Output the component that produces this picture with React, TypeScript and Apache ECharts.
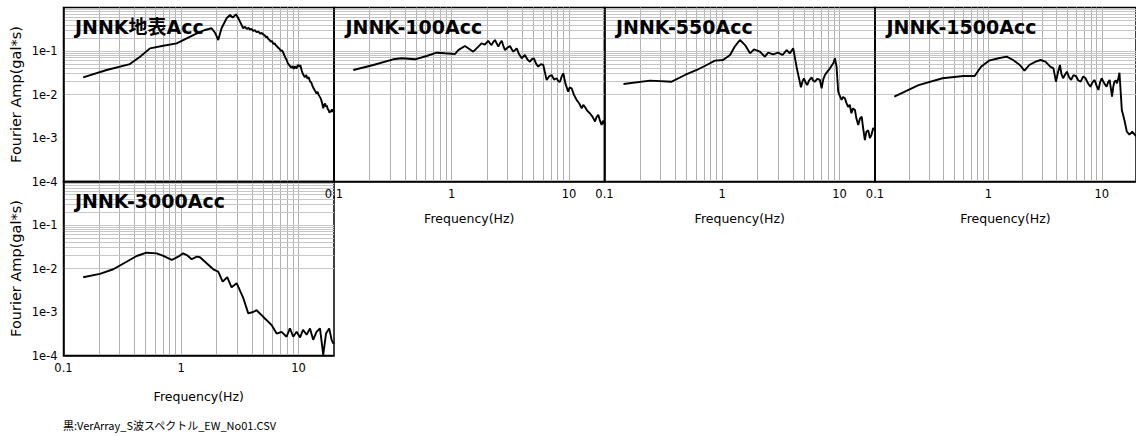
import React, { useEffect, useRef } from "react";
import * as echarts from "echarts";

// ---------- data ----------
const PANEL_TITLES = ["JNNK地表Acc", "JNNK-100Acc", "JNNK-550Acc", "JNNK-1500Acc", "JNNK-3000Acc"];

const FREQ_SURFACE = [0.147, 0.233, 0.367, 0.448, 0.544, 0.706, 0.918, 1.117, 1.31, 1.6, 1.82, 1.95, 2.07, 2.21, 2.44, 2.61, 2.75, 2.93, 3.07, 3.2, 3.38, 3.5, 3.62, 3.75, 3.85, 3.97, 4.1, 4.25, 4.39, 4.55, 4.7, 4.85, 5.0, 5.15, 5.25, 5.38, 5.51, 5.65, 5.8, 5.95, 6.08, 6.25, 6.4, 6.55, 6.71, 6.88, 7.05, 7.2, 7.4, 7.55, 7.65, 7.8, 7.91, 8.1, 8.3, 8.5, 8.71, 8.9, 9.1, 9.3, 9.61, 9.85, 10.1, 10.35, 10.6, 10.85, 11.1, 11.3, 11.6, 11.9, 12.2, 12.5, 12.8, 13.1, 13.3, 13.6, 13.9, 14.2, 14.5, 14.8, 15.2, 15.5, 15.8, 16.2, 16.5, 16.8, 17.1, 17.4, 17.7, 18.0, 18.3, 18.6, 18.9, 19.2, 19.5, 19.8, 20];
const AMP_SURFACE = [0.0248, 0.0366, 0.05, 0.074, 0.115, 0.132, 0.15, 0.196, 0.242, 0.304, 0.333, 0.26, 0.179, 0.333, 0.565, 0.672, 0.583, 0.698, 0.565, 0.45, 0.333, 0.36, 0.32, 0.34, 0.31, 0.325, 0.29, 0.3, 0.27, 0.28, 0.25, 0.26, 0.24, 0.23, 0.21, 0.215, 0.19, 0.18, 0.165, 0.17, 0.145, 0.15, 0.135, 0.128, 0.118, 0.112, 0.1, 0.104, 0.092, 0.08, 0.074, 0.066, 0.062, 0.052, 0.048, 0.044, 0.041, 0.045, 0.039, 0.044, 0.04, 0.048, 0.044, 0.047, 0.036, 0.03, 0.027, 0.025, 0.028, 0.023, 0.025, 0.02, 0.019, 0.016, 0.0145, 0.013, 0.0118, 0.0105, 0.0115, 0.0098, 0.0087, 0.0078, 0.0066, 0.0048, 0.0058, 0.0062, 0.0052, 0.0056, 0.0046, 0.0044, 0.0038, 0.0042, 0.004, 0.0046, 0.004, 0.0043, 0.0038];

const FREQ_100 = [0.146, 0.216, 0.319, 0.376, 0.489, 0.614, 0.746, 0.879, 1.07, 1.14, 1.3, 1.53, 1.69, 1.8, 1.92, 2.05, 2.12, 2.19, 2.26, 2.34, 2.42, 2.5, 2.58, 2.67, 2.76, 2.85, 3.0, 3.14, 3.25, 3.35, 3.46, 3.58, 3.75, 3.95, 4.08, 4.21, 4.42, 4.64, 4.83, 5.02, 5.22, 5.46, 5.75, 6.03, 6.2, 6.44, 6.75, 7.1, 7.45, 7.83, 8.1, 8.36, 8.65, 8.92, 9.3, 9.82, 10.1, 10.5, 11.0, 11.6, 12.2, 12.8, 13.2, 13.6, 14.3, 15.0, 15.8, 16.6, 17.1, 17.7, 18.3, 18.9, 19.4, 19.8, 20];
const AMP_100 = [0.0366, 0.0477, 0.0644, 0.068, 0.0644, 0.0767, 0.0914, 0.0885, 0.0853, 0.105, 0.13, 0.0964, 0.126, 0.15, 0.14, 0.172, 0.15, 0.137, 0.16, 0.179, 0.15, 0.126, 0.15, 0.172, 0.13, 0.105, 0.12, 0.13, 0.11, 0.0964, 0.105, 0.115, 0.085, 0.068, 0.075, 0.081, 0.064, 0.0568, 0.065, 0.068, 0.052, 0.0436, 0.05, 0.0477, 0.034, 0.0216, 0.026, 0.0281, 0.022, 0.0236, 0.02, 0.0197, 0.026, 0.0307, 0.018, 0.0116, 0.0145, 0.0139, 0.0098, 0.0075, 0.0062, 0.0048, 0.0058, 0.0052, 0.0042, 0.0037, 0.0031, 0.0024, 0.003, 0.0034, 0.0025, 0.002, 0.0025, 0.0022, 0.0021];

const FREQ_550 = [0.145, 0.244, 0.373, 0.484, 0.609, 0.74, 0.87, 1.02, 1.17, 1.29, 1.42, 1.57, 1.73, 1.87, 2.1, 2.31, 2.47, 2.72, 3.0, 3.27, 3.54, 3.78, 4.03, 4.3, 4.69, 4.83, 4.97, 5.13, 5.3, 5.5, 5.78, 5.95, 6.17, 6.45, 6.8, 7.03, 7.25, 7.5, 7.9, 8.28, 8.55, 8.84, 9.12, 9.42, 9.73, 10.0, 10.4, 10.7, 11.1, 11.4, 11.8, 12.2, 12.6, 13.0, 13.5, 13.9, 14.4, 14.9, 15.4, 15.9, 16.4, 16.9, 17.5, 18.1, 18.7, 19.3, 20];
const AMP_550 = [0.0174, 0.0208, 0.0197, 0.0281, 0.0366, 0.0477, 0.06, 0.0621, 0.081, 0.13, 0.179, 0.137, 0.0885, 0.109, 0.0964, 0.074, 0.0914, 0.0839, 0.0914, 0.081, 0.105, 0.0885, 0.115, 0.0436, 0.0146, 0.02, 0.0236, 0.019, 0.0165, 0.021, 0.0248, 0.021, 0.0197, 0.023, 0.0216, 0.0139, 0.022, 0.0281, 0.034, 0.04, 0.046, 0.0521, 0.068, 0.0436, 0.0116, 0.0095, 0.0075, 0.0088, 0.0082, 0.0065, 0.0052, 0.0058, 0.0037, 0.0048, 0.0044, 0.0028, 0.002, 0.0028, 0.0031, 0.0016, 0.0009, 0.0014, 0.0015, 0.001, 0.0012, 0.0017, 0.0015];

const FREQ_1500 = [0.148, 0.242, 0.394, 0.602, 0.756, 0.861, 1.01, 1.23, 1.45, 1.65, 1.89, 2.08, 2.29, 2.61, 2.88, 3.18, 3.51, 3.74, 3.94, 4.1, 4.27, 4.4, 4.55, 4.72, 4.92, 5.14, 5.36, 5.62, 5.91, 6.2, 6.51, 6.85, 7.18, 7.55, 7.92, 8.27, 8.63, 8.98, 9.33, 9.65, 9.96, 10.5, 11.0, 11.35, 11.7, 12.0, 12.3, 12.6, 12.9, 13.25, 13.6, 14.0, 14.3, 15.0, 15.8, 16.6, 17.5, 18.5, 20];
const AMP_1500 = [0.0089, 0.0165, 0.0236, 0.0266, 0.0266, 0.0436, 0.06, 0.068, 0.074, 0.0621, 0.0477, 0.0352, 0.0477, 0.0568, 0.0621, 0.0568, 0.0436, 0.04, 0.0197, 0.032, 0.0477, 0.03, 0.0236, 0.028, 0.0335, 0.025, 0.0216, 0.028, 0.0266, 0.021, 0.0197, 0.026, 0.0236, 0.018, 0.0151, 0.019, 0.0216, 0.016, 0.0127, 0.019, 0.0236, 0.018, 0.0151, 0.019, 0.0216, 0.014, 0.0089, 0.015, 0.0197, 0.021, 0.0181, 0.024, 0.0317, 0.0044, 0.0026, 0.0014, 0.0012, 0.0014, 0.0011];

const FREQ_3000 = [0.147, 0.204, 0.265, 0.344, 0.419, 0.509, 0.621, 0.707, 0.832, 0.946, 1.04, 1.12, 1.23, 1.36, 1.45, 1.65, 1.88, 2.07, 2.26, 2.47, 2.69, 2.97, 3.38, 3.73, 4.11, 4.39, 4.84, 5.16, 5.51, 5.89, 6.5, 7.16, 7.9, 8.43, 9.0, 9.61, 10.3, 10.9, 11.7, 12.5, 13.3, 14.2, 15.2, 16.2, 17.1, 18.2, 19.1, 19.7, 20];
const AMP_3000 = [0.0063, 0.0075, 0.0096, 0.0143, 0.0194, 0.0231, 0.0223, 0.0194, 0.0157, 0.0187, 0.0223, 0.0204, 0.0163, 0.0187, 0.0181, 0.0132, 0.0096, 0.0085, 0.005, 0.0063, 0.0037, 0.0046, 0.0021, 0.00093, 0.001, 0.0011, 0.00085, 0.00071, 0.0006, 0.0005, 0.00032, 0.00035, 0.00027, 0.00042, 0.00027, 0.00035, 0.00026, 0.00039, 0.0003, 0.00042, 0.00023, 0.00035, 0.00042, 0.000103, 0.00032, 0.00042, 0.00023, 0.00019, 0.0002];

const PANEL_FREQS = [FREQ_SURFACE, FREQ_100, FREQ_550, FREQ_1500, FREQ_3000];
const PANEL_AMPS = [AMP_SURFACE, AMP_100, AMP_550, AMP_1500, AMP_3000];

const X_MIN = 0.1;
const X_MAX = 20;
const Y_MIN = 1e-4;
const Y_MAX = 1;

const X_GRID_VALUES = [0.2, 0.3, 0.4, 0.5, 0.6, 0.7, 0.8, 0.9, 1, 2, 3, 4, 5, 6, 7, 8, 9, 10];
const Y_GRID_VALUES = [
  2e-4, 3e-4, 4e-4, 5e-4, 6e-4, 7e-4, 8e-4, 9e-4, 1e-3,
  2e-3, 3e-3, 4e-3, 5e-3, 6e-3, 7e-3, 8e-3, 9e-3, 1e-2,
  2e-2, 3e-2, 4e-2, 5e-2, 6e-2, 7e-2, 8e-2, 9e-2, 1e-1,
  2e-1, 3e-1, 4e-1, 5e-1, 6e-1, 7e-1, 8e-1, 9e-1,
];

const X_NAME = "Frequency(Hz)";
const Y_NAME = "Fourier Amp(gal*s)";
const FOOTER = "黒:VerArray_S波スペクトル_EW_No01.CSV";

// ---------- layout ----------
const PW = 270.5;
const PH = 174;
const PANELS = [
  { left: 63.5, top: 7.5 },
  { left: 334, top: 7.5 },
  { left: 604.5, top: 7.5 },
  { left: 875, top: 7.5 },
  { left: 63.5, top: 181.5 },
];

const TICK_FONT = '"DejaVu Sans", sans-serif';

function fmtX(v: number) {
  return String(parseFloat(Number(v).toPrecision(4)));
}
function fmtY(v: number) {
  return "1e" + Math.round(Math.log10(v));
}

function buildOption() {
  const grid: any[] = [];
  const xAxis: any[] = [];
  const yAxis: any[] = [];
  const series: any[] = [];
  const graphic: any[] = [];

  PANELS.forEach((p, i) => {
    grid.push({
      left: p.left,
      top: p.top,
      width: PW,
      height: PH,
      show: true,
      borderColor: "#000",
      borderWidth: 1.5,
      backgroundColor: "transparent",
      z: 0,
    });
    const showX = i !== 0;
    const showY = i === 0 || i === 4;
    xAxis.push({
      type: "log",
      logBase: 10,
      gridIndex: i,
      min: X_MIN,
      max: X_MAX,
      z: 4,
      axisLine: { show: true, onZero: false, lineStyle: { color: "#000", width: 1.5 } },
      axisTick: { show: false },
      splitLine: { show: false },
      axisLabel: {
        show: showX,
        color: "#000",
        fontSize: 11.5,
        fontFamily: TICK_FONT,
        margin: 6,
        showMaxLabel: false,
        formatter: fmtX,
      },
      name: showX ? X_NAME : "",
      nameLocation: "middle",
      nameGap: i === 4 ? 34 : 30,
      nameTextStyle: { color: "#000", fontSize: 12.5, fontFamily: TICK_FONT },
    });
    yAxis.push({
      type: "log",
      logBase: 10,
      gridIndex: i,
      min: Y_MIN,
      max: Y_MAX,
      z: 4,
      axisLine: { show: true, onZero: false, lineStyle: { color: "#000", width: 1.5 } },
      axisTick: { show: false },
      splitLine: { show: false },
      axisLabel: {
        show: showY,
        color: "#000",
        fontSize: 11.5,
        fontFamily: TICK_FONT,
        margin: 6,
        showMaxLabel: false,
        formatter: fmtY,
      },
      name: showY ? Y_NAME : "",
      nameLocation: "middle",
      nameGap: 40,
      nameTextStyle: { color: "#000", fontSize: 14.5, fontFamily: TICK_FONT },
    });
    // grid lines through the axis scale
    series.push({
      type: "line",
      xAxisIndex: i,
      yAxisIndex: i,
      data: [],
      z: 1,
      silent: true,
      markLine: {
        silent: true,
        z: 1,
        symbol: "none",
        label: { show: false },
        animation: false,
        lineStyle: { color: "#b0b0b0", width: 1, type: "solid" },
        data: [
          ...X_GRID_VALUES.map((v) => ({ xAxis: v })),
          ...Y_GRID_VALUES.map((v) => ({ yAxis: v, lineStyle: { color: "#c6c6c6", width: 1, type: "solid" } })),
        ],
      },
    });
    const freqs = PANEL_FREQS[i];
    const amps = PANEL_AMPS[i];
    series.push({
      type: "line",
      xAxisIndex: i,
      yAxisIndex: i,
      data: freqs.map((f, k) => [f, amps[k]]),
      showSymbol: false,
      symbol: "none",
      clip: true,
      z: 6,
      lineStyle: { color: "#000", width: 1.9 },
    });
    graphic.push({
      type: "text",
      x: p.left + 11.5,
      y: p.top + 19,
      z: 10,
      style: {
        text: PANEL_TITLES[i],
        fill: "#000",
        font: 'bold 19px "DejaVu Sans", "Noto Sans CJK JP", sans-serif',
        textAlign: "left",
        textVerticalAlign: "middle",
      },
    });
  });

  graphic.push({
    type: "text",
    x: 63,
    y: 425,
    style: {
      text: FOOTER,
      fill: "#000",
      font: '11px "Noto Sans CJK JP", sans-serif',
      textAlign: "left",
      textVerticalAlign: "middle",
    },
  });

  return {
    animation: false,
    backgroundColor: "#fff",
    grid,
    xAxis,
    yAxis,
    series,
    graphic,
  };
}

export default function App() {
  const ref = useRef<HTMLDivElement>(null);
  useEffect(() => {
    document.body.style.margin = "0";
    const chart = echarts.init(ref.current as HTMLDivElement, undefined, { renderer: "svg" });
    chart.setOption(buildOption() as any);
    return () => chart.dispose();
  }, []);
  return <div ref={ref} style={{ width: 1136, height: 436, background: "#fff" }} />;
}
